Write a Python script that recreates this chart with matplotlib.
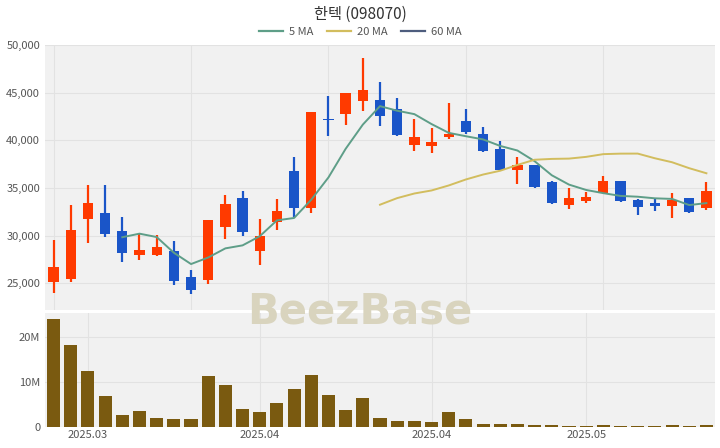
import numpy as np
import pandas as pd
import matplotlib.pyplot as plt
from matplotlib.lines import Line2D

plt.rcParams['font.family'] = ['Noto Sans CJK KR', 'DejaVu Sans']

# daily candles
opens  = [25100, 25400, 31770, 32400, 30520, 28020, 27920, 28440, 25620, 25310,
          30940, 33960, 28440, 31460, 36770, 32920, 42200, 42810, 44170, 44270,
          43330, 39480, 39380, 40300, 41980, 40620, 39060, 36880, 37400, 35620,
          33230, 33650, 34480, 35730, 33750, 33440, 33120, 33960, 32920]
highs  = [29580, 33230, 35310, 35310, 31980, 30310, 30100, 29480, 26350, 31670,
          34270, 34690, 31770, 33850, 38230, 42920, 44690, 45000, 48650, 46150,
          44480, 42190, 41250, 43960, 43330, 41350, 39900, 38230, 37450, 35700,
          35000, 34580, 36250, 35730, 33800, 33850, 34480, 34000, 35620]
lows   = [23960, 25100, 29270, 29900, 27190, 27400, 27900, 24790, 23850, 24900,
          29690, 30000, 26880, 30620, 31980, 32400, 40420, 41560, 43120, 41460,
          40420, 38850, 38650, 40100, 40620, 38750, 36800, 35420, 35000, 33300,
          32810, 33440, 34480, 33540, 32190, 32600, 31880, 32400, 32710]
closes = [26670, 30620, 33440, 30210, 28230, 28540, 28850, 25210, 24270, 31670,
          33330, 30420, 30000, 32600, 32920, 42920, 42100, 45000, 45310, 42600,
          40520, 40310, 39790, 40700, 40830, 38850, 36880, 37400, 35100, 33440,
          33960, 34060, 35730, 33650, 33020, 33120, 33750, 32500, 34690]
volumes = [23.9, 18.2, 12.3, 6.9, 2.6, 3.6, 2.1, 1.8, 1.8, 11.3,
           9.2, 3.9, 3.3, 5.2, 8.4, 11.4, 7.1, 3.7, 6.4, 1.9,
           1.3, 1.4, 1.0, 3.3, 1.7, 0.67, 0.6, 0.7, 0.37, 0.35,
           0.3, 0.15, 0.5, 0.3, 0.15, 0.15, 0.35, 0.12, 0.55]  # millions
tick_pos = [2, 12, 22, 31]
tick_labels = ['2025.03', '2025.04', '2025.04', '2025.05']

UP = '#ff3a00'
DOWN = '#1a55c8'
BG = '#f1f1f1'
GRID = '#e2e2e2'
TXT = '#555555'

x = np.arange(len(closes))
o = np.array(opens); c = np.array(closes)
h = np.array(highs); l = np.array(lows)
ma5 = pd.Series(closes).rolling(5).mean()
ma20 = pd.Series(closes).rolling(20).mean()
ma60 = pd.Series(closes).rolling(60).mean()

fig = plt.figure(figsize=(7.2, 4.48), dpi=100)
ax = fig.add_axes([45/720, 1-310/448, 670/720, 265/448])
axv = fig.add_axes([45/720, 21/448, 670/720, 114/448])

for a in (ax, axv):
    a.set_facecolor(BG)
    for s in a.spines.values():
        s.set_visible(False)
    a.tick_params(length=0, labelsize=8, colors=TXT)
    a.set_xlim(-0.5, len(closes) - 0.5)
    a.set_axisbelow(True)

# price panel
colors = [UP if cc >= oo else DOWN for oo, cc in zip(o, c)]
ax.vlines(x, l, h, colors=colors, linewidth=1.6, zorder=2)
body = np.maximum(np.abs(c - o), 150)
ax.bar(x, body, bottom=np.minimum(o, c), width=0.6, color=colors, zorder=2)
ax.plot(x, ma5, color='#5e9e88', lw=1.4, zorder=3)
ax.plot(x, ma20, color='#d2bd5e', lw=1.4, zorder=3)
ax.plot(x, ma60, color='#4e5d7e', lw=1.4, zorder=3)
ax.set_ylim(22200, 50000)
ax.set_yticks(range(25000, 50001, 5000))
ax.set_yticklabels([f'{v:,}' for v in range(25000, 50001, 5000)])
ax.set_xticks([0, 8, 16, 24, 32])
ax.set_xticklabels([])
ax.grid(True, color=GRID, lw=0.8)

# volume panel
axv.bar(x, np.array(volumes) * 1e6, width=0.76, color='#7a5a10', zorder=2)
axv.set_ylim(0, 25.2e6)
axv.set_yticks([0, 10e6, 20e6])
axv.set_yticklabels(['0', '10M', '20M'])
axv.set_xticks(tick_pos)
axv.set_xticklabels(tick_labels)
axv.tick_params(axis='x', pad=2)
axv.grid(True, color=GRID, lw=0.8)

fig.text(0.5, 1-14/448, '한텍 (098070)', ha='center', va='center', fontsize=11, color='#333333')
handles = [Line2D([], [], color='#5e9e88', lw=1.6),
           Line2D([], [], color='#d2bd5e', lw=1.6),
           Line2D([], [], color='#4e5d7e', lw=1.6)]
fig.legend(handles, ['5 MA', '20 MA', '60 MA'], loc='center', bbox_to_anchor=(0.5, 1-32/448),
           ncol=3, frameon=False, fontsize=8, handlelength=2.2, columnspacing=1.2,
           handletextpad=0.5, labelcolor=TXT)

fig.text(0.5, 1-312/448, 'BeezBase', ha='center', va='center', fontsize=30,
         fontweight='bold', color='#d9d4be', family='DejaVu Sans')

fig.savefig('out.png', dpi=100)
